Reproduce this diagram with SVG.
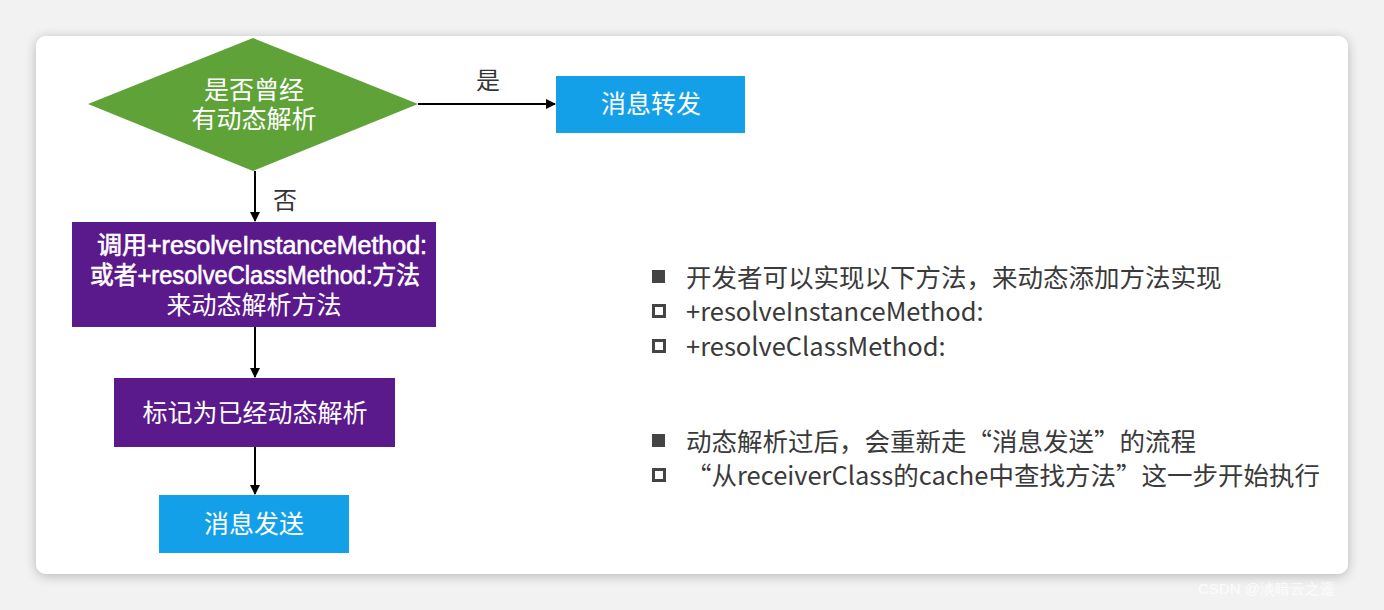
<svg xmlns="http://www.w3.org/2000/svg" width="1384" height="610" viewBox="0 0 1384 610">
<defs>
<filter id="sh" x="-5%" y="-5%" width="110%" height="115%"><feGaussianBlur in="SourceAlpha" stdDeviation="6"/><feOffset dx="0" dy="2"/><feComponentTransfer><feFuncA type="linear" slope="0.25"/></feComponentTransfer><feMerge><feMergeNode/><feMergeNode in="SourceGraphic"/></feMerge></filter>
<marker id="ah" markerWidth="10" markerHeight="10" refX="9" refY="5" orient="auto" markerUnits="userSpaceOnUse"><path d="M0,0 L10,5 L0,10 z" fill="#000"/></marker>
</defs>
<style>
.t{font-family:"Noto Sans CJK SC","Noto Sans",sans-serif;fill:#fff;font-size:25px;text-anchor:middle}
.m{font-family:"Liberation Sans","Noto Sans CJK SC",sans-serif}
.b{stroke:#fff;stroke-width:0.6}
.l{font-family:"Noto Sans CJK SC","Noto Sans",sans-serif;fill:#3a3a3a;font-size:25.5px}
.lbl{font-family:"Noto Sans CJK SC",sans-serif;fill:#333;font-size:24px;text-anchor:middle}
.c{stroke:#000;stroke-width:2;fill:none;marker-end:url(#ah)}
.blue{fill:#14a0e9}
.purple{fill:#5b1a8b}
</style>
<rect width="1384" height="610" fill="#f2f2f2"/>
<rect x="36" y="36" width="1312" height="538" rx="10" fill="#fff" filter="url(#sh)"/>
<g id="connectors">
<line class="c" x1="418" y1="104" x2="555" y2="104"/>
<line class="c" x1="255" y1="171" x2="255" y2="221"/>
<line class="c" x1="255" y1="327" x2="255" y2="377"/>
<line class="c" x1="255" y1="447" x2="255" y2="494"/>
<text class="lbl" x="488" y="89">是</text>
<text class="lbl" x="285" y="209">否</text>
</g>
<g id="decision">
<polygon points="253,38 418,104 253,171 88,104" fill="#5ea238"/>
<text class="t m"><tspan x="254" y="99">是否曾经</tspan><tspan x="254" y="128">有动态解析</tspan></text>
</g>
<g id="forward">
<rect class="blue" x="556" y="76" width="189" height="57"/>
<text class="t" x="651" y="113">消息转发</text>
</g>
<g id="resolve">
<rect class="purple" x="72" y="222" width="364" height="105"/>
<text class="t m"><tspan class="b" x="262" y="254" textLength="330" lengthAdjust="spacingAndGlyphs">调用+resolveInstanceMethod:</tspan><tspan class="b" x="255" y="284" textLength="330" lengthAdjust="spacingAndGlyphs">或者+resolveClassMethod:方法</tspan><tspan x="254" y="314">来动态解析方法</tspan></text>
</g>
<g id="mark">
<rect class="purple" x="114" y="378" width="281" height="69"/>
<text class="t" x="255" y="422">标记为已经动态解析</text>
</g>
<g id="send">
<rect class="blue" x="159" y="495" width="190" height="58"/>
<text class="t" x="254" y="533">消息发送</text>
</g>
<g id="notes">
<rect x="652" y="270" width="13" height="13" fill="#444"/>
<text class="l" x="686" y="287">开发者可以实现以下方法，来动态添加方法实现</text>
<rect x="653.5" y="305.5" width="11" height="11" fill="none" stroke="#444" stroke-width="3"/>
<text class="l" x="686" y="321">+resolveInstanceMethod:</text>
<rect x="653.5" y="340.5" width="11" height="11" fill="none" stroke="#444" stroke-width="3"/>
<text class="l" x="686" y="356">+resolveClassMethod:</text>
<rect x="652" y="434" width="13" height="13" fill="#444"/>
<text class="l" x="686" y="451">动态解析过后，会重新走“消息发送”的流程</text>
<rect x="653.5" y="469.5" width="11" height="11" fill="none" stroke="#444" stroke-width="3"/>
<text class="l" x="686" y="485">“从receiverClass的cache中查找方法”这一步开始执行</text>
</g>
<text x="1198" y="594" font-family="Liberation Sans,sans-serif" font-size="15" fill="#fff" fill-opacity="0.8">CSDN @淡暗云之遥</text>
</svg>
